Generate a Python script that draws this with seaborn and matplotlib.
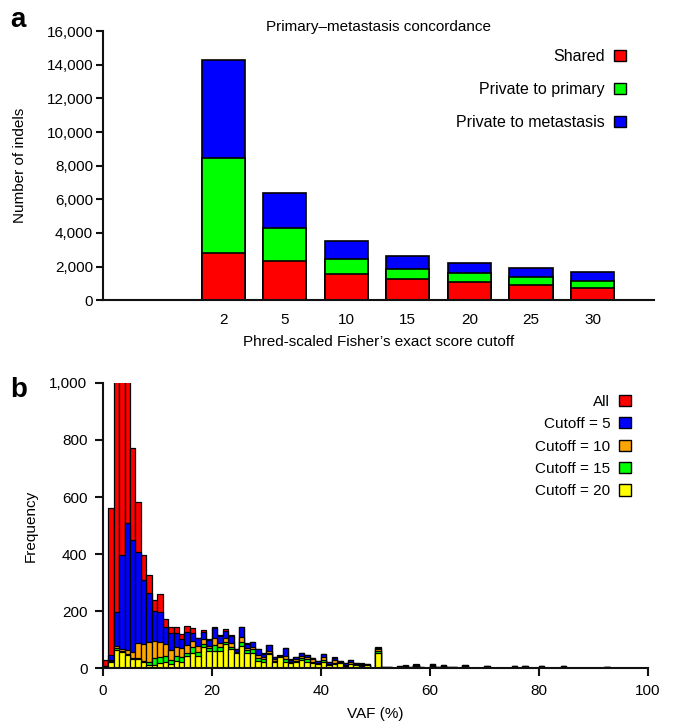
import numpy as np
import pandas as pd
import matplotlib
matplotlib.use('Agg')
import matplotlib.pyplot as plt
from matplotlib.patches import Patch
from matplotlib.ticker import FuncFormatter
import seaborn as sns

# Panel a: primary-metastasis concordance (stacked counts)
cutoffs = ['2', '5', '10', '15', '20', '25', '30']
shared = [2810, 2300, 1570, 1260, 1060, 900, 710]
private_primary = [5670, 1980, 900, 620, 530, 450, 410]
private_metastasis = [5830, 2100, 1060, 730, 610, 570, 550]

# Panel b: VAF histograms (1% bins, 0-100), overlaid
vaf_all = [30, 560, 1200, 1300, 1150, 772, 583, 397, 327, 238,
           260, 173, 146, 144, 120, 149, 141, 108, 134, 102,
           146, 117, 137, 116, 69, 146, 88, 94, 69, 53,
           83, 40, 46, 72, 32, 40, 54, 47, 37, 27,
           51, 22, 39, 26, 19, 31, 19, 18, 16, 2,
           74, 5, 5, 3, 8, 11, 4, 14, 4, 3,
           15, 5, 12, 5, 5, 3, 12, 3, 2, 3,
           10, 3, 2, 2, 1, 8, 1, 8, 1, 1,
           8, 1, 1, 1, 8, 1, 1, 1, 0, 1,
           1, 0, 5, 1, 0, 0, 1, 0, 0, 0]
vaf_c5 = [8, 47, 199, 396, 508, 448, 406, 311, 263, 202,
          197, 144, 123, 123, 102, 128, 123, 106, 126, 100,
          141, 115, 132, 114, 67, 144, 86, 92, 67, 51,
          81, 39, 45, 70, 30, 39, 53, 46, 36, 26,
          50, 21, 38, 25, 18, 30, 18, 17, 15, 2,
          72, 5, 5, 3, 7, 10, 4, 13, 4, 3,
          14, 5, 11, 5, 5, 3, 11, 3, 2, 3,
          9, 3, 2, 2, 1, 8, 1, 8, 1, 1,
          8, 1, 1, 1, 8, 1, 1, 1, 0, 1,
          1, 0, 5, 1, 0, 0, 1, 0, 0, 0]
vaf_c10 = [5, 30, 80, 67, 66, 59, 88, 85, 91, 96,
           92, 85, 65, 76, 72, 81, 97, 79, 102, 79,
           106, 90, 106, 88, 58, 111, 71, 74, 47, 41,
           62, 32, 40, 45, 22, 32, 45, 39, 32, 20,
           39, 16, 30, 21, 12, 23, 14, 12, 13, 1,
           68, 4, 4, 2, 6, 9, 3, 12, 3, 2,
           12, 4, 10, 4, 4, 2, 10, 2, 1, 2,
           7, 2, 1, 1, 1, 7, 1, 7, 1, 1,
           7, 1, 1, 1, 7, 1, 1, 1, 0, 1,
           1, 0, 4, 1, 0, 0, 1, 0, 0, 0]
vaf_c15 = [3, 26, 70, 60, 52, 36, 35, 25, 22, 38,
           39, 45, 30, 45, 41, 55, 74, 59, 85, 71,
           82, 76, 94, 76, 55, 94, 65, 67, 36, 32,
           55, 26, 39, 33, 20, 26, 38, 32, 24, 17,
           30, 13, 20, 19, 10, 17, 12, 10, 12, 1,
           60, 3, 3, 2, 5, 8, 2, 11, 3, 2,
           10, 3, 9, 3, 3, 2, 8, 2, 1, 2,
           6, 2, 1, 1, 1, 6, 1, 6, 1, 1,
           6, 1, 1, 1, 6, 1, 1, 1, 0, 1,
           1, 0, 4, 1, 0, 0, 1, 0, 0, 0]
vaf_c20 = [2, 24, 65, 56, 47, 32, 32, 22, 12, 12,
           20, 22, 16, 27, 24, 44, 55, 44, 74, 62,
           62, 62, 85, 67, 53, 79, 53, 53, 27, 24,
           50, 23, 39, 24, 18, 24, 30, 24, 20, 15,
           21, 12, 17, 18, 9, 14, 11, 9, 11, 1,
           54, 2, 2, 1, 4, 7, 1, 9, 2, 1,
           8, 2, 7, 2, 2, 1, 7, 1, 1, 1,
           4, 1, 1, 1, 0, 5, 0, 5, 0, 0,
           5, 0, 0, 0, 5, 0, 0, 0, 0, 0,
           0, 0, 3, 0, 0, 0, 0, 0, 0, 0]
vaf_bins = list(range(0, 100))

sns.set_style('ticks')
plt.rcParams['font.family'] = ['Liberation Sans', 'DejaVu Sans']
plt.rcParams['font.size'] = 11
for k in ['text.color', 'axes.labelcolor', 'xtick.color', 'ytick.color']:
    plt.rcParams[k] = 'black'

fs = 11
fig = plt.figure(figsize=(6.73, 7.25), dpi=100)
ax_a = fig.add_axes([0.153, 0.586, 0.819, 0.371])
ax_b = fig.add_axes([0.1526, 0.078, 0.810, 0.394])

spine_col = '#111111'

# ---- panel a: stacked bars drawn as cumulative layers
df_a = pd.DataFrame({'cutoff': cutoffs, 'shared': shared,
                     'primary': private_primary, 'meta': private_metastasis})
df_a['top_green'] = df_a['shared'] + df_a['primary']
df_a['top_blue'] = df_a['top_green'] + df_a['meta']

layers = [('top_blue', '#0000ff'), ('top_green', '#00ff00'), ('shared', '#ff0000')]
for col, c in layers:
    sns.barplot(data=df_a, x='cutoff', y=col, order=cutoffs, color=c, saturation=1,
                width=0.7, edgecolor='black', linewidth=1.2, errorbar=None, ax=ax_a)

ax_a.set_xlim(-1.95, 7.0)
ax_a.set_ylim(0, 16000)
ax_a.set_yticks(np.arange(0, 16001, 2000))
ax_a.yaxis.set_major_formatter(FuncFormatter(lambda v, p: f'{v:,.0f}'))
ax_a.tick_params(axis='x', length=0, pad=9, labelsize=fs)
ax_a.tick_params(axis='y', length=5, width=1.5, pad=2, color=spine_col, labelsize=fs)
ax_a.set_xlabel('Phred-scaled Fisher\u2019s exact score cutoff', fontsize=fs, labelpad=6)
ax_a.set_ylabel('Number of indels', fontsize=fs, labelpad=14)
ax_a.set_title('Primary\u2013metastasis concordance', fontsize=fs, pad=0, y=1.0)
for s in ['top', 'right']:
    ax_a.spines[s].set_visible(False)
for s in ['left', 'bottom']:
    ax_a.spines[s].set_linewidth(1.5)
    ax_a.spines[s].set_color(spine_col)

h_a = [Patch(facecolor='#ff0000', edgecolor='black', linewidth=1.0, label='Shared'),
       Patch(facecolor='#00ff00', edgecolor='black', linewidth=1.0, label='Private to primary'),
       Patch(facecolor='#0000ff', edgecolor='black', linewidth=1.0, label='Private to metastasis')]
leg_a = ax_a.legend(handles=h_a, loc='upper right', bbox_to_anchor=(0.949, 0.933),
                    markerfirst=False, frameon=False, borderpad=0, borderaxespad=0,
                    handlelength=0.75, handleheight=0.75, handletextpad=0.6,
                    labelspacing=1.12, fontsize=11.5)
for c in leg_a._legend_handle_box.get_children():
    c.align = 'right'

# ---- panel b: overlaid histograms
series_b = [('All', vaf_all, '#ff0000'), ('Cutoff = 5', vaf_c5, '#0000ff'),
            ('Cutoff = 10', vaf_c10, '#ffa500'), ('Cutoff = 15', vaf_c15, '#00ff00'),
            ('Cutoff = 20', vaf_c20, '#ffff00')]
for name, vals, c in series_b:
    df_b = pd.DataFrame({'vaf': [b + 0.5 for b in vaf_bins], 'count': vals})
    sns.histplot(data=df_b, x='vaf', weights='count', binwidth=1, binrange=(0, 100),
                 color=c, alpha=1, edgecolor='black', linewidth=0.9, ax=ax_b)

ax_b.set_xlim(0, 100)
ax_b.set_ylim(0, 1000)
ax_b.set_xticks(np.arange(0, 101, 20))
ax_b.set_yticks(np.arange(0, 1001, 200))
ax_b.yaxis.set_major_formatter(FuncFormatter(lambda v, p: f'{v:,.0f}'))
ax_b.tick_params(length=6, width=1.5, pad=5, color=spine_col, labelsize=fs)
ax_b.set_xlabel('VAF (%)', fontsize=fs, labelpad=7)
ax_b.set_ylabel('Frequency', fontsize=fs, labelpad=8)
for s in ['top', 'right']:
    ax_b.spines[s].set_visible(False)
for s in ['left', 'bottom']:
    ax_b.spines[s].set_linewidth(1.5)
    ax_b.spines[s].set_color(spine_col)

h_b = [Patch(facecolor=c, edgecolor='black', linewidth=1.0, label=n) for n, v, c in series_b]
leg_b = ax_b.legend(handles=h_b, loc='upper right', bbox_to_anchor=(0.969, 0.958),
                    markerfirst=False, frameon=False, borderpad=0, borderaxespad=0,
                    handlelength=0.75, handleheight=0.75, handletextpad=0.6,
                    labelspacing=0.55, fontsize=fs)
for c in leg_b._legend_handle_box.get_children():
    c.align = 'right'

fig.text(0.015, 0.99, 'a', fontsize=20, fontweight='bold', va='top', ha='left')
fig.text(0.015, 0.48, 'b', fontsize=20, fontweight='bold', va='top', ha='left')

fig.savefig('out.png', dpi=100)
